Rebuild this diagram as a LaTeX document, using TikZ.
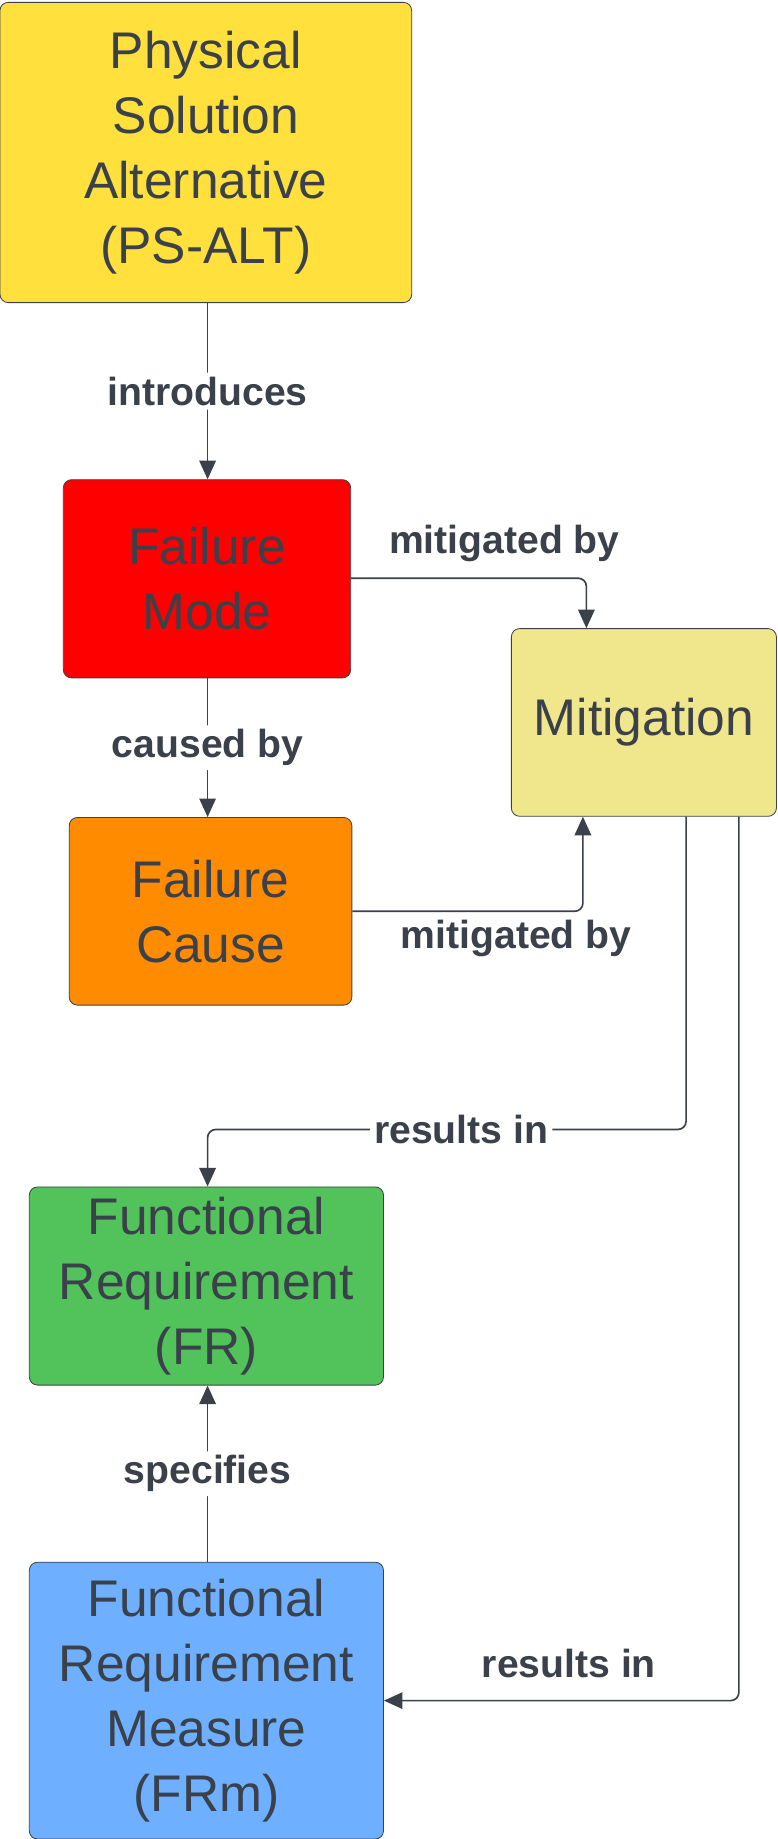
\documentclass[tikz,border=0pt]{standalone}
\usepackage{fontspec}
\setmainfont{Liberation Sans}
\usetikzlibrary{arrows.meta, positioning}
\definecolor{ink}{HTML}{3A414A}
\definecolor{psalt}{HTML}{FFE03D}
\definecolor{fmode}{HTML}{FF0000}
\definecolor{mitig}{HTML}{F0E68C}
\definecolor{fcause}{HTML}{FF8C00}
\definecolor{freq}{HTML}{52C25A}
\definecolor{frm}{HTML}{6EB0FF}
\tikzset{
    box/.style={draw=ink, rounded corners=4pt, align=center, text=ink,
        font=\fontsize{25}{31.5}\selectfont, inner sep=0pt},
    link/.style={draw=ink, line width=0.8pt, rounded corners=4pt, -{Triangle[length=9pt,width=8pt]}},
    lbl/.style={fill=white, text=ink, font=\fontsize{19}{22}\selectfont\bfseries, inner sep=2pt}
}
\begin{document}
\begin{tikzpicture}[x=0.02cm, y=-0.02cm]
    \useasboundingbox (0,0) rectangle (663,1568);

    % Boxes
    \node[box, fill=psalt, minimum width=351*0.02cm, minimum height=256*0.02cm] (psalt) at (175.5,130) {Physical\\Solution\\Alternative\\(PS-ALT)};
    \node[box, fill=fmode, minimum width=245*0.02cm, minimum height=169*0.02cm] (mode) at (176.5,493.5) {Failure\\Mode};
    \node[box, fill=mitig, minimum width=226*0.02cm, minimum height=160*0.02cm] (mitig) at (549,616) {Mitigation};
    \node[box, fill=fcause, minimum width=241*0.02cm, minimum height=160*0.02cm] (cause) at (179.5,777) {Failure\\Cause};
    \node[box, fill=freq, minimum width=302*0.02cm, minimum height=169*0.02cm] (fr) at (176,1096.5) {Functional\\Requirement\\(FR)};
    \node[box, fill=frm, minimum width=302*0.02cm, minimum height=236*0.02cm] (frm) at (176,1450) {Functional\\Requirement\\Measure\\(FRm)};

    % Bend points
    \coordinate (m1) at (500,493);
    \coordinate (m2) at (497,777);
    \coordinate (r1a) at (585,963);
    \coordinate (r1b) at (177,963);
    \coordinate (r2) at (630,1450);

    % Connectors
    \draw[link] (psalt.south -| 177,0) -- node[lbl] {introduces} (mode.north -| 177,0);
    \draw[link] (mode.east |- m1) -- (m1) -- (mitig.north -| m1);
    \node[lbl] (lmode) at (430,463) {mitigated by};
    \draw[link] (mode.south -| 177,0) -- node[lbl] {caused by} (cause.north -| 177,0);
    \draw[link] (cause.east |- m2) -- (m2) -- (mitig.south -| m2);
    \node[lbl] (lcause) at (440,800) {mitigated by};
    \draw[link] (mitig.south -| r1a) -- (r1a) -- node[lbl, pos=0.47] {results in} (r1b) -- (fr.north -| r1b);
    \draw[link] (frm.north -| 177,0) -- node[lbl] {specifies} (fr.south -| 177,0);
    \draw[link] (mitig.south -| r2) -- (r2) -- (frm.east |- r2);
    \node[lbl] (lfrm) at (485,1418) {results in};
\end{tikzpicture}
\end{document}
